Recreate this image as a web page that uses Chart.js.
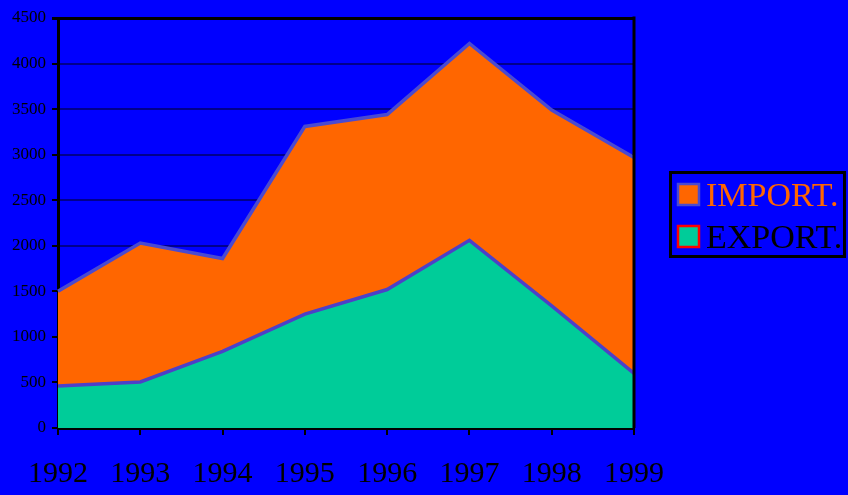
<!DOCTYPE html>
<html>
<head>
<meta charset="utf-8">
<script src="https://cdn.jsdelivr.net/npm/chart.js@4/dist/chart.umd.min.js"></script>
<style>
  html, body { margin: 0; padding: 0; background: #0000ff; }
  #wrap { width: 848px; height: 495px; }
</style>
</head>
<body>
<div id="wrap"><canvas id="chartArea" width="848" height="495"></canvas></div>
<script>
// data
var years = ['1992', '1993', '1994', '1995', '1996', '1997', '1998', '1999'];
var exportVals = [460, 505, 840, 1250, 1520, 2060, 1340, 600];
var importVals = [1040, 1525, 1020, 2060, 1920, 2160, 2150, 2370];
var yTicks = [0, 500, 1000, 1500, 2000, 2500, 3000, 3500, 4000, 4500];

var serif = '"Liberation Serif", "DejaVu Serif", serif';

// frame on the right + the legend box
var extras = {
    id: 'extras',
    afterDraw: function (chart) {
        var ctx = chart.ctx;
        var a = chart.chartArea;
        ctx.save();
        ctx.strokeStyle = '#000000';
        ctx.lineWidth = 3;
        ctx.beginPath();
        ctx.moveTo(a.right, a.top - 1.5);
        ctx.lineTo(a.right, a.bottom);
        ctx.stroke();

        // legend
        ctx.lineWidth = 3;
        ctx.strokeRect(670.5, 172.5, 174, 84);
        var items = [
            { text: 'IMPORT.', fill: '#ff6600', stroke: '#4a4ad0', color: '#ff6600', y: 195 },
            { text: 'EXPORT.', fill: '#00cc99', stroke: '#ff0000', color: '#000000', y: 237 }
        ];
        ctx.font = '34px ' + serif;
        ctx.textBaseline = 'middle';
        items.forEach(function (it) {
            ctx.fillStyle = it.fill;
            ctx.fillRect(678, it.y - 11, 21, 21);
            ctx.strokeStyle = it.stroke;
            ctx.lineWidth = 2.5;
            ctx.strokeRect(678, it.y - 11, 21, 21);
            ctx.fillStyle = it.color;
            ctx.fillText(it.text, 706, it.y + 2);
        });
        ctx.restore();
    }
};

var ctx = document.getElementById('chartArea').getContext('2d');
var chartIE = new Chart(ctx, {
    type: 'line',
    data: {
        labels: years,
        datasets: [{
            label: 'EXPORT.',
            data: exportVals,
            backgroundColor: '#00cc99',
            borderColor: '#4d40c8',
            borderWidth: 3.5,
            fill: 'origin',
            pointRadius: 0,
            tension: 0
        }, {
            label: 'IMPORT.',
            data: importVals,
            backgroundColor: '#ff6600',
            borderColor: '#4a4ad0',
            borderWidth: 3.5,
            fill: '-1',
            pointRadius: 0,
            tension: 0
        }]
    },
    options: {
        responsive: false,
        animation: false,
        layout: { padding: { top: 18, right: 214, left: 0, bottom: 0 } },
        plugins: {
            legend: { display: false },
            tooltip: { enabled: false }
        },
        scales: {
            x: {
                offset: false,
                grid: {
                    drawOnChartArea: false,
                    color: '#000000',
                    lineWidth: 2,
                    tickLength: 7
                },
                border: { color: '#000000', width: 3 },
                ticks: {
                    color: '#000000',
                    font: { family: serif, size: 30 },
                    padding: 21,
                    maxRotation: 0,
                    autoSkip: false
                },
                afterFit: function (s) { s.height = 67; }
            },
            y: {
                stacked: true,
                min: 0,
                max: 4500,
                afterBuildTicks: function (s) {
                    s.ticks = yTicks.map(function (v) { return { value: v }; });
                },
                grid: {
                    color: function (c) { return c.tick && c.tick.value === 4500 ? '#000000' : '#00008c'; },
                    lineWidth: function (c) { return c.tick && c.tick.value === 4500 ? 3 : 2; },
                    tickLength: 6,
                    tickColor: '#000000'
                },
                border: { color: '#000000', width: 3 },
                ticks: {
                    color: '#000000',
                    font: { family: serif, size: 17 },
                    padding: 6,
                    callback: function (v) { return String(v); }
                },
                afterFit: function (s) { s.width = 58; }
            }
        }
    },
    plugins: [extras]
});
</script>
</body>
</html>
